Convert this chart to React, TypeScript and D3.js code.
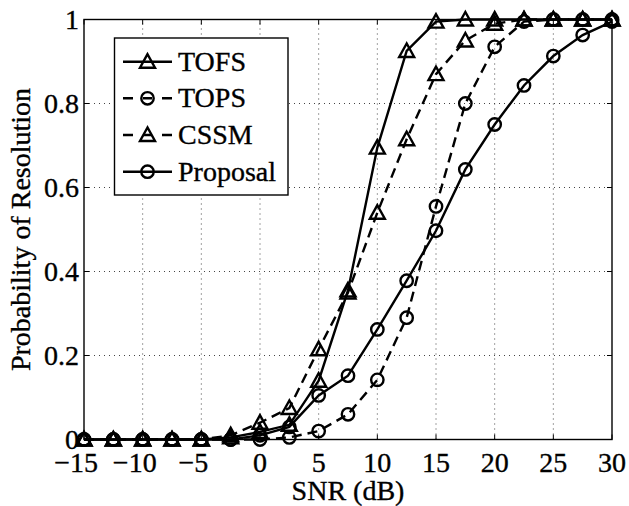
import React from 'react';
import * as d3 from 'd3';

const snr = [-15, -12.5, -10, -7.5, -5, -2.5, 0, 2.5, 5, 7.5, 10, 12.5, 15, 17.5, 20, 22.5, 25, 27.5, 30];
const tofs = [0, 0, 0, 0, 0, 0.005, 0.018, 0.035, 0.14, 0.355, 0.695, 0.925, 0.995, 1, 1, 1, 1, 1, 1];
const tops = [0, 0, 0, 0, 0, 0, 0, 0.005, 0.02, 0.06, 0.142, 0.29, 0.555, 0.8, 0.935, 0.995, 1, 1, 1];
const cssm = [0, 0, 0, 0, 0, 0.01, 0.04, 0.075, 0.215, 0.35, 0.54, 0.715, 0.87, 0.95, 0.99, 1, 1, 1, 1];
const proposal = [0, 0, 0, 0, 0, 0, 0.01, 0.03, 0.105, 0.152, 0.262, 0.378, 0.497, 0.643, 0.75, 0.843, 0.913, 0.963, 0.995];

const seriesNames = ['TOFS', 'TOPS', 'CSSM', 'Proposal'];
const seriesValues = [tofs, tops, cssm, proposal];
const seriesDashed = [false, true, true, false];
const seriesMarker = ['triangle', 'circle', 'triangle', 'circle'];

const xTicks = [-15, -10, -5, 0, 5, 10, 15, 20, 25, 30];
const yTicks = [0, 0.2, 0.4, 0.6, 0.8, 1];

const FONT = '"Liberation Serif", "Times New Roman", serif';
const LW = 2.4;

function Marker({ kind, cx, cy }: { kind: string; cx: number; cy: number }) {
  if (kind === 'circle') {
    return <circle cx={cx} cy={cy} r={6.2} fill="none" stroke="#000" strokeWidth={LW} />;
  }
  const p = `M${cx},${cy - 7.5}L${cx - 7.5},${cy + 6}L${cx + 7.5},${cy + 6}Z`;
  return <path d={p} fill="none" stroke="#000" strokeWidth={LW} strokeLinejoin="miter" />;
}

export default function App() {
  const x = d3.scaleLinear().domain([-15, 30]).range([84, 612]);
  const y = d3.scaleLinear().domain([0, 1]).range([439.5, 19.5]);
  const [x0, x1] = x.range();
  const [y0, y1] = y.range();

  const line = d3
    .line<number>()
    .x((_, i) => x(snr[i]))
    .y((d) => y(d));

  const legX0 = 123;
  const legX1 = 172;
  const legMid = 147.5;
  const legY = [61.7, 98.3, 135, 171.7];

  return (
    <svg
      width={629}
      height={506}
      style={{ position: 'absolute', left: 0, top: 0, background: '#fff' }}
      fontFamily={FONT}
    >
      <rect x={0} y={0} width={629} height={506} fill="#fff" />
      {/* grid */}
      <g stroke="#444" strokeWidth={1} strokeDasharray="1,4">
        {xTicks.slice(1, -1).map((t) => (
          <line key={'gx' + t} x1={x(t)} x2={x(t)} y1={y0} y2={y1} />
        ))}
        {yTicks.slice(1, -1).map((t) => (
          <line key={'gy' + t} x1={x0} x2={x1} y1={y(t)} y2={y(t)} />
        ))}
      </g>
      {/* ticks */}
      <g stroke="#000" strokeWidth={1}>
        {xTicks.map((t) => (
          <g key={'tx' + t}>
            <line x1={x(t)} x2={x(t)} y1={y0} y2={y0 - 5} />
            <line x1={x(t)} x2={x(t)} y1={y1} y2={y1 + 5} />
          </g>
        ))}
        {yTicks.map((t) => (
          <g key={'ty' + t}>
            <line x1={x0} x2={x0 + 5} y1={y(t)} y2={y(t)} />
            <line x1={x1} x2={x1 - 5} y1={y(t)} y2={y(t)} />
          </g>
        ))}
      </g>
      {/* series */}
      {seriesValues.map((vals, si) => (
        <g key={seriesNames[si]}>
          <path
            d={line(vals) || ''}
            fill="none"
            stroke="#000"
            strokeWidth={LW}
            strokeDasharray={seriesDashed[si] ? '10,6' : undefined}
          />
          {vals.map((v, i) => (
            <Marker key={i} kind={seriesMarker[si]} cx={x(snr[i])} cy={y(v)} />
          ))}
        </g>
      ))}
      {/* axes box */}
      <rect x={x0} y={y1} width={x1 - x0} height={y0 - y1} fill="none" stroke="#000" strokeWidth={1.4} />
      {/* labels */}
      <g fontSize={28} fill="#000" stroke="#000" strokeWidth={0.35}>
        {xTicks.map((t) => {
          const digits = String(Math.abs(t));
          if (t < 0) {
            return (
              <text key={'lx' + t} x={x(t) + digits.length * 7} y={471.5} textAnchor="end">
                {'\u2212' + digits}
              </text>
            );
          }
          return (
            <text key={'lx' + t} x={x(t)} y={471.5} textAnchor="middle">
              {digits}
            </text>
          );
        })}
        {yTicks.map((t) => (
          <text key={'ly' + t} x={79} y={y(t)} dy="0.35em" textAnchor="end">
            {d3.format('~g')(t)}
          </text>
        ))}
        <text x={(x0 + x1) / 2} y={500} textAnchor="middle">
          SNR (dB)
        </text>
        <text transform={`translate(30,${(y0 + y1) / 2}) rotate(-90)`} textAnchor="middle">
          Probability of Resolution
        </text>
      </g>
      {/* legend */}
      <rect x={114.5} y={38} width={173.5} height={157} fill="#fff" stroke="#000" strokeWidth={1.4} />
      {seriesNames.map((name, si) => (
        <g key={'leg' + name}>
          <line
            x1={legX0}
            x2={legX1}
            y1={legY[si]}
            y2={legY[si]}
            stroke="#000"
            strokeWidth={LW}
            strokeDasharray={seriesDashed[si] ? '10,10,9,10,10' : undefined}
          />
          <Marker kind={seriesMarker[si]} cx={legMid} cy={legY[si]} />
          <text x={178} y={legY[si] + 9} fontSize={28} fill="#000" stroke="#000" strokeWidth={0.35}>
            {name}
          </text>
        </g>
      ))}
    </svg>
  );
}
